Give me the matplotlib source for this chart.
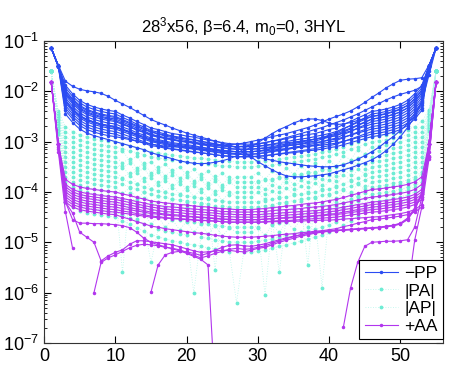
import numpy as np
import matplotlib.pyplot as plt
from matplotlib.ticker import LogLocator, NullFormatter

plt.rcParams['font.family'] = ['Liberation Sans', 'DejaVu Sans']
plt.rcParams['mathtext.fontset'] = 'custom'
plt.rcParams['mathtext.rm'] = 'Liberation Sans'
plt.rcParams['mathtext.it'] = 'Liberation Sans:italic'
plt.rcParams['mathtext.default'] = 'regular'

# all correlator values are stored as 100*log10(value), t = 1..55
pp_log = [
    [-114,-150,-188,-205,-218,-226,-231,-235,-238,-240,
     -247,-253,-260,-266,-273,-276,-280,-284,-286,-289,-291,-294,-297,-299,-302,-304,
     -305,-305,-305,
     -304,-302,-299,-297,-294,-291,-289,-286,-284,-280,-276,-273,-266,-260,-253,-247,
     -240,-238,-235,-231,-226,-218,-205,-188,-150,-114],
    [-114,-150,-193,-210,-223,-231,-236,-240,-243,-245,
     -252,-258,-265,-271,-278,-281,-285,-289,-291,-294,-296,-299,-302,-304,-307,-309,
     -310,-310,-310,
     -309,-308,-306,-304,-302,-301,-299,-297,-295,-293,-290,-288,-283,-279,-274,-270,
     -265,-263,-260,-256,-251,-243,-230,-213,-150,-114],
    [-114,-150,-198,-215,-228,-236,-241,-245,-248,-250,
     -256,-262,-268,-274,-280,-284,-287,-290,-293,-295,-297,-300,-302,-305,-307,-309,
     -310,-310,-310,
     -309,-307,-305,-302,-300,-297,-295,-293,-290,-287,-284,-280,-274,-268,-262,-256,
     -250,-248,-245,-241,-236,-228,-215,-198,-150,-114],
    [-114,-150,-203,-220,-233,-241,-246,-250,-253,-255,
     -261,-267,-273,-279,-285,-289,-292,-295,-298,-300,-302,-305,-307,-310,-312,-314,
     -315,-315,-315,
     -314,-313,-311,-310,-308,-307,-305,-303,-302,-300,-297,-295,-291,-287,-283,-279,
     -275,-273,-270,-266,-261,-253,-240,-223,-150,-114],
    [-114,-150,-208,-225,-238,-246,-251,-255,-258,-260,
     -266,-271,-277,-282,-288,-291,-294,-297,-299,-301,-303,-306,-308,-310,-312,-314,
     -315,-315,-315,
     -314,-312,-310,-307,-305,-302,-300,-298,-295,-292,-289,-285,-279,-273,-267,-261,
     -255,-253,-250,-246,-241,-233,-220,-203,-150,-114],
    [-114,-150,-213,-230,-243,-251,-256,-260,-263,-265,
     -271,-276,-282,-287,-293,-296,-299,-302,-304,-306,-308,-311,-313,-315,-317,-319,
     -320,-320,-320,
     -319,-318,-317,-315,-314,-313,-311,-310,-308,-307,-305,-303,-299,-296,-292,-289,
     -285,-283,-280,-276,-271,-263,-250,-233,-150,-114],
    [-114,-150,-218,-235,-248,-256,-261,-265,-268,-270,
     -275,-280,-285,-290,-295,-298,-301,-304,-306,-308,-310,-312,-314,-316,-318,-319,
     -320,-320,-320,
     -319,-316,-313,-310,-307,-304,-301,-298,-295,-292,-287,-283,-275,-268,-260,-253,
     -245,-243,-240,-236,-231,-223,-210,-193,-150,-114],
    [-114,-150,-218,-235,-248,-256,-261,-265,-268,-270,
     -276,-281,-287,-292,-298,-301,-304,-307,-309,-311,-313,-316,-318,-320,-322,-324,
     -325,-325,-325,
     -324,-322,-320,-318,-316,-313,-311,-309,-307,-304,-301,-298,-292,-287,-281,-276,
     -270,-268,-265,-261,-256,-248,-235,-218,-150,-114],
    [-114,-150,-223,-240,-253,-261,-266,-270,-273,-275,
     -280,-285,-290,-295,-300,-303,-306,-309,-311,-313,-315,-317,-319,-321,-323,-324,
     -325,-325,-325,
     -324,-322,-319,-317,-314,-311,-309,-306,-304,-300,-296,-293,-286,-280,-273,-267,
     -260,-258,-255,-251,-246,-238,-225,-208,-150,-114],
    [-114,-150,-228,-245,-258,-266,-271,-275,-278,-280,
     -285,-290,-295,-300,-305,-308,-311,-314,-316,-318,-320,-322,-324,-326,-328,-329,
     -330,-330,-330,
     -329,-328,-326,-324,-322,-320,-318,-316,-314,-311,-308,-305,-300,-295,-290,-285,
     -280,-278,-275,-271,-266,-258,-245,-228,-150,-114],
    [-114,-150,-233,-250,-263,-271,-276,-280,-283,-285,
     -290,-294,-299,-303,-308,-310,-313,-315,-317,-319,-321,-322,-324,-326,-328,-329,
     -330,-330,-330,
     -329,-328,-326,-325,-323,-322,-320,-318,-317,-315,-312,-310,-306,-302,-298,-294,
     -290,-288,-285,-281,-276,-268,-255,-238,-150,-114],
    [-114,-150,-238,-255,-268,-276,-281,-285,-288,-290,
     -293,-296,-299,-302,-305,-307,-309,-310,-311,-313,-314,-315,-316,-317,-319,-319,
     -320,-320,-320,
     -319,-317,-314,-312,-309,-306,-304,-301,-299,-295,-291,-288,-281,-275,-268,-262,
     -255,-253,-250,-246,-241,-233,-220,-203,-150,-114],
    [-114,-148,-180,-190,-196,-199,-201,-204,-210,-218,
     -225,-232,-240,-248,-256,-262,-267,-273,-278,-283,
     -287,-291,-295,-299,-303,-307,-312,-320,-330,-340,
     -348,-356,-363,-368,-370,-370,-369,-368,-366,-364,
     -360,-356,-352,-347,-342,-336,-328,-318,-305,-290,
     -272,-250,-222,-168,-114],
    [-114,-152,-245,-262,-275,-283,-288,-292,-296,-300,
     -304,-308,-312,-316,-322,-326,-330,-334,-338,-341,
     -343,-344,-343,-341,-338,-334,-328,-320,-311,-302,
     -293,-284,-276,-270,-263,-258,-255,-255,-258,-263,
     -266,-265,-262,-258,-254,-250,-247,-244,-240,-235,
     -228,-215,-198,-152,-114],
    [-114,-150,-205,-222,-235,-243,-248,-252,-255,-258,
     -264,-270,-276,-281,-286,-290,-293,-296,-299,-301,
     -303,-305,-306,-307,-307,-306,-305,-303,-300,-297,
     -294,-290,-287,-284,-280,-276,-272,-267,-261,-255,
     -250,-245,-239,-231,-222,-212,-203,-193,-185,-178,
     -176,-175,-173,-148,-114],
    [-114,-150,-220,-237,-250,-258,-263,-267,-270,-272,
     -277,-282,-287,-292,-297,-300,-303,-306,-308,-310,
     -312,-314,-316,-318,-320,-322,-324,-326,-328,-331,
     -334,-337,-340,-342,-344,-346,-348,-349,-350,-350,
     -349,-346,-341,-335,-328,-320,-311,-300,-290,-278,
     -264,-245,-220,-160,-114],
    [-114,-150,-200,-217,-230,-238,-243,-247,-250,-252,
     -258,-264,-270,-276,-281,-285,-289,-292,-295,-298,
     -301,-303,-305,-307,-309,-310,-310,-309,-307,-305,
     -302,-299,-296,-292,-288,-284,-280,-276,-272,-267,
     -262,-257,-251,-245,-238,-231,-224,-217,-211,-206,
     -202,-198,-190,-150,-114],
]

pa_log = [
    [-160,-240,-270,-280,-287,-291,-294,-296,-298,-300,
     -304,-308,-312,-316,-320,-322,-325,-327,-328,-330,-332,-333,-335,-336,-338,-339,
     -340,-340,-340,
     -339,-338,-336,-334,-332,-330,-328,-326,-324,-321,-318,-315,-310,-305,-300,-295,
     -290,-288,-286,-283,-280,-276,-270,-260,-237,-160],
    [-160,-246,-290,-300,-307,-311,-314,-316,-318,-320,
     -318,-338,-329,-347,-340,-356,-345,-360,-350,-366,-355,-370,-358,-374,-362,-377,
     -370,-370,-370,
     -362,-375,-358,-370,-352,-365,-348,-361,-343,-355,-338,-349,-328,-336,-316,-324,
     -310,-308,-306,-303,-300,-296,-290,-280,-243,-160],
    [-160,-252,-310,-320,-327,-331,-334,-336,-338,-340,
     -352,-343,-363,-352,-373,-360,-379,-366,-384,-370,-388,-374,-392,-378,-396,-381,
     -390,-390,-390,
     -381,-395,-377,-390,-372,-385,-367,-381,-362,-375,-356,-368,-346,-356,-334,-344,
     -330,-328,-326,-323,-320,-316,-310,-300,-249,-160],
    [-160,-258,-330,-340,-347,-351,-354,-356,-358,-360,
     -372,-362,-384,-372,-394,-380,-400,-386,-405,-390,-410,-394,-413,-398,-417,-401,
     -410,-410,-410,
     -401,-415,-398,-410,-392,-405,-388,-401,-382,-395,-377,-388,-366,-376,-355,-364,
     -350,-348,-346,-343,-340,-336,-330,-320,-255,-160],
    [-160,-264,-350,-360,-367,-371,-374,-376,-378,-380,
     -385,-390,-395,-400,-405,-408,-411,-414,-416,-418,-420,-422,-424,-555,-428,-429,
     -430,-430,-430,
     -429,-427,-425,-422,-420,-417,-415,-413,-410,-407,-404,-400,-394,-388,-382,-376,
     -370,-368,-366,-363,-360,-356,-350,-340,-261,-160],
    [-160,-270,-370,-380,-387,-391,-394,-396,-398,-400,
     -560,-402,-424,-412,-434,-420,-440,-426,-445,-430,-449,-434,-453,-438,-457,-441,
     -450,-450,-450,
     -457,-440,-453,-434,-448,-429,-443,-425,-438,-420,-432,-412,-422,-400,-410,-388,
     -390,-388,-386,-383,-380,-376,-370,-360,-267,-160],
    [-160,-276,-390,-400,-407,-411,-414,-416,-418,-420,
     -425,-430,-435,-440,-445,-448,-451,-454,-456,-458,-460,-462,-464,-466,-468,-469,
     -470,-470,-470,
     -469,-605,-464,-462,-459,-456,-454,-451,-449,-445,-441,-438,-431,-425,-418,-412,
     -405,-403,-401,-398,-395,-391,-385,-375,-272,-160],
    [-160,-282,-410,-420,-427,-431,-434,-436,-438,-440,
     -446,-452,-458,-464,-540,-474,-477,-480,-483,-485,-600,-490,-492,-495,-497,-499,
     -500,-500,-500,
     -498,-496,-493,-490,-486,-483,-480,-477,-474,-470,-465,-460,-452,-444,-436,-428,
     -420,-418,-416,-413,-410,-406,-400,-390,-276,-160],
]

ap_log = [
    [-160,-243,-280,-290,-297,-301,-304,-306,-308,-310,
     -314,-318,-322,-326,-330,-332,-335,-337,-338,-340,-342,-343,-345,-346,-348,-349,
     -350,-350,-350,
     -349,-348,-346,-344,-342,-340,-338,-336,-334,-331,-328,-325,-320,-315,-310,-305,
     -300,-298,-296,-293,-290,-286,-280,-270,-240,-160],
    [-160,-249,-300,-310,-317,-321,-324,-326,-328,-330,
     -342,-334,-353,-343,-362,-351,-368,-357,-373,-361,-378,-364,-382,-368,-386,-371,
     -380,-380,-380,
     -379,-377,-375,-372,-370,-367,-365,-363,-360,-357,-354,-350,-344,-338,-332,-326,
     -320,-318,-316,-313,-310,-306,-300,-290,-246,-160],
    [-160,-255,-320,-330,-337,-341,-344,-346,-348,-350,
     -348,-368,-357,-378,-366,-387,-372,-392,-378,-396,-382,-400,-386,-404,-390,-407,
     -400,-400,-400,
     -391,-405,-387,-400,-381,-395,-377,-390,-372,-386,-366,-378,-356,-366,-344,-354,
     -340,-338,-336,-333,-330,-326,-320,-310,-252,-160],
    [-160,-261,-340,-350,-357,-361,-364,-366,-368,-370,
     -375,-380,-385,-390,-395,-398,-401,-404,-406,-408,-410,-412,-414,-416,-418,-419,
     -420,-420,-420,
     -419,-417,-415,-412,-410,-407,-405,-403,-400,-397,-394,-390,-384,-378,-372,-366,
     -360,-358,-356,-353,-350,-346,-340,-330,-258,-160],
    [-160,-267,-360,-370,-377,-381,-384,-386,-388,-390,
     -403,-392,-414,-401,-424,-409,-430,-415,-435,-419,-440,-423,-444,-427,-448,-431,
     -440,-440,-440,
     -431,-446,-427,-441,-422,-436,-418,-545,-412,-426,-406,-419,-396,-406,-384,-394,
     -380,-378,-376,-373,-370,-366,-360,-350,-264,-160],
    [-160,-273,-380,-390,-397,-401,-404,-406,-408,-410,
     -415,-420,-425,-430,-435,-438,-441,-444,-446,-448,-450,-452,-454,-456,-458,-459,
     -460,-460,-460,
     -459,-457,-454,-560,-449,-446,-444,-441,-439,-435,-431,-428,-421,-415,-408,-402,
     -395,-393,-391,-388,-385,-381,-375,-365,-269,-160],
    [-160,-279,-400,-410,-417,-421,-424,-426,-428,-430,
     -443,-432,-454,-441,-464,-449,-470,-455,-475,-459,-480,-463,-484,-467,-488,-471,
     -480,-480,-480,
     -471,-486,-466,-480,-460,-474,-455,-469,-449,-590,-441,-453,-430,-439,-416,-425,
     -410,-408,-406,-403,-400,-396,-390,-380,-273,-160],
    [-160,-285,-420,-430,-437,-441,-444,-446,-448,-450,
     -457,-464,-471,-478,-485,-489,-493,-497,-500,-503,-505,-508,-511,-514,-517,-519,
     -620,-520,-520,
     -518,-516,-512,-508,-505,-501,-498,-494,-490,-486,-480,-475,-466,-457,-448,-439,
     -430,-428,-426,-423,-420,-416,-410,-400,-279,-160],
]

aa_log = [
    [-182,-305,-375,-385,-390,-393,-395,-397,-399,-400,
     -404,-407,-411,-414,-418,-420,-422,-423,-425,-426,-428,-429,-430,-432,-433,-434,
     -435,-435,-435,
     -434,-433,-431,-430,-428,-427,-425,-423,-422,-420,-417,-415,-411,-407,-403,-399,
     -395,-394,-392,-390,-388,-385,-380,-370,-305,-182],
    [-182,-305,-385,-395,-400,-403,-405,-407,-409,-410,
     -413,-416,-419,-422,-425,-427,-429,-430,-431,-433,-434,-435,-436,-437,-439,-439,
     -440,-440,-440,
     -439,-439,-437,-436,-435,-434,-433,-431,-430,-429,-427,-425,-422,-419,-416,-413,
     -410,-409,-407,-405,-403,-400,-395,-385,-305,-182],
    [-182,-305,-390,-400,-405,-408,-410,-412,-414,-415,
     -418,-421,-424,-427,-430,-432,-434,-435,-436,-438,-439,-440,-441,-442,-444,-444,
     -445,-445,-445,
     -445,-444,-443,-442,-441,-440,-439,-438,-437,-436,-434,-433,-430,-428,-425,-423,
     -420,-419,-417,-415,-413,-410,-405,-395,-305,-182],
    [-182,-305,-395,-405,-410,-413,-415,-417,-419,-420,
     -423,-426,-429,-432,-435,-437,-439,-440,-441,-443,-444,-445,-446,-447,-449,-449,
     -450,-450,-450,
     -450,-449,-448,-447,-446,-445,-444,-443,-442,-441,-439,-438,-435,-433,-430,-428,
     -425,-424,-422,-420,-418,-415,-410,-400,-305,-182],
    [-182,-305,-400,-410,-415,-418,-420,-422,-424,-425,
     -428,-431,-434,-437,-440,-442,-444,-445,-446,-448,-449,-450,-451,-452,-454,-454,
     -455,-455,-455,
     -455,-454,-453,-452,-451,-450,-449,-448,-447,-446,-444,-443,-440,-438,-435,-433,
     -430,-429,-427,-425,-423,-420,-415,-405,-305,-182],
    [-182,-305,-405,-415,-420,-423,-425,-427,-429,-430,
     -433,-435,-438,-440,-443,-444,-446,-447,-448,-449,-450,-451,-452,-453,-454,-455,
     -455,-455,-455,
     -455,-454,-453,-452,-452,-451,-450,-449,-448,-447,-446,-445,-443,-441,-439,-437,
     -435,-434,-432,-430,-428,-425,-420,-410,-305,-182],
    [-182,-305,-410,-420,-425,-428,-430,-432,-434,-435,
     -438,-440,-443,-445,-448,-449,-451,-452,-453,-454,-455,-456,-457,-458,-459,-460,
     -460,-460,-460,
     -460,-459,-458,-457,-457,-456,-455,-454,-453,-452,-451,-450,-448,-446,-444,-442,
     -440,-439,-437,-435,-433,-430,-425,-415,-305,-182],
    [-182,-305,-415,-425,-430,-433,-435,-437,-439,-440,
     -442,-444,-446,-448,-450,-451,-452,-453,-454,-455,-456,-457,-457,-458,-459,-460,
     -460,-460,-460,
     -460,-460,-459,-459,-459,-458,-458,-457,-457,-456,-456,-455,-454,-453,-452,-451,
     -450,-449,-447,-445,-443,-440,-435,-425,-305,-182],
    [-182,-305,-420,-430,-435,-438,-440,-442,-444,-445,
     -450,-454,-459,-463,-468,-470,-473,-475,-477,-479,-481,-482,-484,-486,-488,-489,
     -490,-490,-490,
     -489,-488,-487,-485,-484,-483,-481,-480,-478,-477,-475,-473,-469,-466,-462,-459,
     -455,-454,-452,-450,-448,-445,-440,-430,-305,-182],
    [-182,-315,-420,-442,-480,-490,-500,-537,-527,-520,
     -515,-504,-497,-497,-499,-501,-503,-505,-509,-513,
     -517,-520,-519,-517,-516,-516,-518,-519,-516,-512,
     -510,-505,-500,-496,-492,-488,-485,-482,-480,-478,
     -477,-476,-475,-474,-473,-472,-471,-469,-467,-464,
     -455,-435,-405,-330,-182],
]

# AA series where the correlator changes sign: (first t, values)
aa_partial = [
    (1, [-182,-310,-420,-455,-462,-462,-463,-463,-464,-465,
         -467,-471,-480,-492,-500,-505,-509,-513,-517,-522,
         -528,-534,-545,-800]),
    (1, [-182,-320,-440,-512]),
    (7, [-600,-540,-531,-525,
         -518,-511,-506,-504,-505,-507,-510,-512,-515,-520,
         -526,-531,-527,-522,-518,-514,-512,-514,-513,-510,
         -507,-502,-497,-493,-489,-485,-482,-480,-478,-477,
         -476,-475,-474,-473,-472,-471,-470,-468,-466,-462,
         -452,-432,-402,-328,-182]),
    (15, [-599,-545,-525,-520,-518,-519,
          -522,-526,-522,-516,-510,-506,-505,-507,-508,-506,
          -503,-499,-495,-491,-488,-485,-483,-481,-479,-478,
          -477,-476,-475,-474,-473,-472,-471,-469,-467,-463,
          -454,-434,-404,-330,-182]),
    (42, [-668,-591,-540,-508,-500,-499,-498,-498,-497,-495,-470,-410,-320,-182]),
    (51, [-600,-496,-430,-335,-182]),
]

legend_labels = ['\u2212PP', '|PA|', '|AP|', '+AA']
title = r'$28^3$x56, $\beta$=6.4, m$_0$=0, 3HYL'
x_ticks = [0, 10, 20, 30, 40, 50]
y_ticks = [1e-7, 1e-6, 1e-5, 1e-4, 1e-3, 1e-2, 1e-1]

c_pp = '#2b4cf2'
c_pa = '#6eecd4'
c_pa_line = '#b4f6ea'
c_aa = '#b236ee'


def series(vals, t0=1):
    v = np.array(vals, dtype=float)
    return np.arange(t0, t0 + len(v)), 10.0 ** (v / 100.0)


fig = plt.figure(figsize=(4.69, 3.76), dpi=100)
ax = fig.add_axes([0.094, 0.088, 0.851, 0.803])

h = {}
for vals in pa_log + ap_log:
    x, y = series(vals)
    h['pa'], = ax.plot(x, y, ls=(0, (1, 2)), color=c_pa_line, lw=0.6, marker='.',
                       ms=3.5, mfc=c_pa, mec=c_pa, zorder=1)

for vals in aa_log:
    x, y = series(vals)
    h['aa'], = ax.plot(x, y, '-', color=c_aa, lw=0.8, marker='.', ms=3, zorder=2)
for t0, vals in aa_partial:
    x, y = series(vals, t0)
    ax.plot(x, y, '-', color=c_aa, lw=0.8, marker='.', ms=3, zorder=2)

for vals in pp_log:
    x, y = series(vals)
    h['pp'], = ax.plot(x, y, '-', color=c_pp, lw=0.8, marker='.', ms=3, zorder=3)

ax.set_yscale('log')
ax.set_xlim(0, 56)
ax.set_ylim(1e-7, 1e-1)
ax.set_xticks(x_ticks)
ax.set_yticks(y_ticks)
ax.yaxis.set_minor_locator(LogLocator(base=10, subs=np.arange(2, 10), numticks=20))
ax.yaxis.set_minor_formatter(NullFormatter())
ax.tick_params(which='both', direction='in', top=True, right=True, labelsize=13)
ax.tick_params(which='major', length=5)
ax.tick_params(which='minor', length=2.5)
for s in ax.spines.values():
    s.set_color('0.2')

ax.set_title(title, fontsize=12, pad=6)

leg = ax.legend([h['pp'], h['pa'], h['pa'], h['aa']], legend_labels,
                loc='lower right', bbox_to_anchor=(1.0, 0.012), fontsize=12.5,
                fancybox=False, framealpha=1, edgecolor='black',
                handlelength=1.9, borderaxespad=0.0, labelspacing=0.15,
                borderpad=0.3, handletextpad=0.4)
leg.get_frame().set_linewidth(0.8)
leg.set_zorder(5)

fig.savefig('out.png', dpi=100)
